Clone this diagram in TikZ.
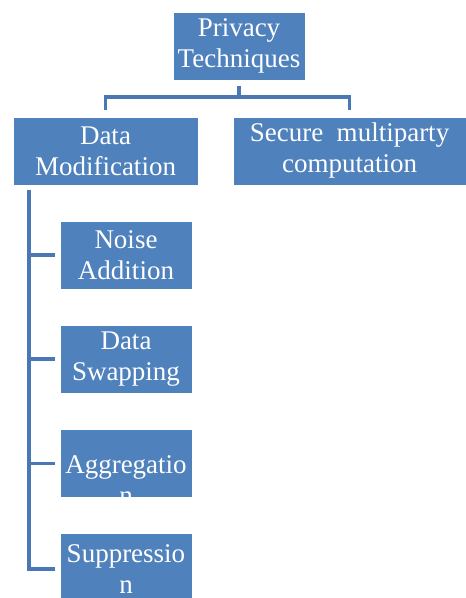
\documentclass[tikz,border=0pt]{standalone}
\usepackage{fontspec}
\setmainfont{Liberation Serif}
\definecolor{boxblue}{HTML}{4F81BD}
\definecolor{lineblue}{HTML}{4A78B5}
\tikzset{
  box/.style={draw=white, line width=0.4pt, fill=boxblue, text=white, align=center,
    inner sep=0pt, font=\fontsize{27}{31}\selectfont},
  leaf/.style={box, minimum width=132pt, minimum height=68pt},
  conn/.style={draw=lineblue, line width=3.5pt},
}
\begin{document}
\begin{tikzpicture}[x=1pt, y=-1pt]
    \useasboundingbox (0,0) rectangle (466,598);
    \node[leaf] (root) at (239, 46) {Privacy\\Techniques};

    \node[box, minimum width=185pt, minimum height=68pt] (dm) at (105.5, 151) {Data\\Modification};
    \node[box, minimum width=233pt, minimum height=68pt] (smc) at (349.5, 151) {Secure~ multiparty\\computation};

    \node[leaf] (noise) at (126, 255) {Noise\\Addition};
    \node[leaf] (swap) at (126, 359) {Data\\Swapping};
    % text runs out of the box here
    \node[leaf] (agg) at (126, 463.5) {\raisebox{-26pt}[0pt][0pt]{\begin{tabular}{@{}c@{}}Aggregatio\\n\end{tabular}}};
    \node[leaf, minimum height=72pt] (supp) at (126, 569) {Suppressio\\n};

    \coordinate (trunk) at (29, 0);

    \draw[conn] ([yshift=-6pt]root.south) -- ++(0,11) -| ([yshift=7pt]dm.north);
    \draw[conn] ([yshift=-6pt]root.south) -- ++(0,11) -| ([yshift=7pt]smc.north);

    \draw[conn] ([yshift=-5pt]dm.south -| trunk) |- ([xshift=-5pt]noise.west);
    \draw[conn] ([yshift=-5pt]dm.south -| trunk) |- ([xshift=-5pt]swap.west);
    \draw[conn] ([yshift=-5pt]dm.south -| trunk) |- ([xshift=-5pt]agg.west);
    \draw[conn] ([yshift=-5pt]dm.south -| trunk) |- ([xshift=-5pt]supp.west);
  \end{tikzpicture}
\end{document}
